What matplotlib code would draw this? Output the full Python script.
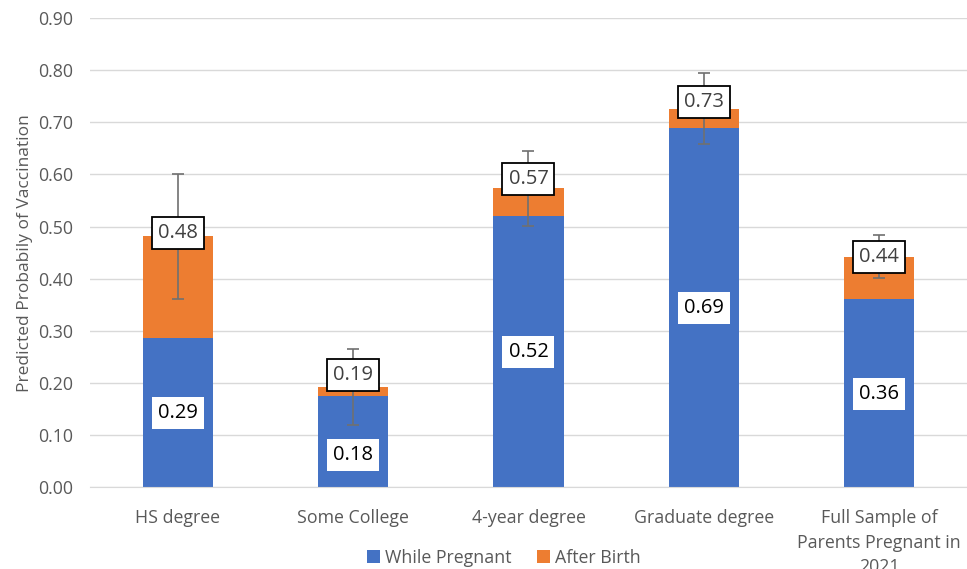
import numpy as np
import matplotlib.pyplot as plt

categories = ['HS degree', 'Some College', '4-year degree', 'Graduate degree',
              'Full Sample of\nParents Pregnant in\n2021']
while_pregnant = [0.287, 0.175, 0.520, 0.689, 0.361]
total = [0.481, 0.192, 0.574, 0.726, 0.442]
err = [0.120, 0.073, 0.072, 0.068, 0.041]
blue_labels = ['0.29', '0.18', '0.52', '0.69', '0.36']
total_labels = ['0.48', '0.19', '0.57', '0.73', '0.44']

after_birth = [t - w for t, w in zip(total, while_pregnant)]

# label placement (manual, like the original)
total_label_y = [0.488, 0.215, 0.591, 0.739, 0.441]
blue_label_y = [0.142, 0.061, 0.259, 0.343, 0.178]

plt.rcParams['font.family'] = ['Open Sans', 'DejaVu Sans']
grey = '#595959'

fig = plt.figure(figsize=(9.67, 5.69), dpi=100)
ax = fig.add_axes([0.093, 0.144, 0.907, 0.824])

x = np.arange(len(categories))
w = 0.4
ax.bar(x, while_pregnant, w, color='#4472C4', label='While Pregnant', zorder=2)
ax.bar(x, after_birth, w, bottom=while_pregnant, color='#ED7D31',
       label='After Birth', zorder=2)
ax.errorbar(x, total, yerr=err, fmt='none', ecolor='#707070', elinewidth=1.2,
            capsize=4, capthick=1.2, zorder=3)

for i in range(len(x)):
    ax.text(x[i], total_label_y[i], total_labels[i], ha='center', va='center',
            fontsize=14.5, color='#404040', zorder=4,
            bbox=dict(boxstyle='square,pad=0.3', fc='white', ec='black', lw=1.3))
    ax.text(x[i], blue_label_y[i], blue_labels[i], ha='center', va='center',
            fontsize=14.5, color='black', zorder=4,
            bbox=dict(boxstyle='square,pad=0.3', fc='white', ec='none'))

ax.set_xlim(-0.5, len(x) - 0.5)
ax.set_ylim(0, 0.9)
ax.set_yticks(np.arange(0, 0.91, 0.1))
ax.set_yticklabels([f'{v:.2f}' for v in np.arange(0, 0.91, 0.1)])
ax.set_xticks(x)
ax.set_xticklabels(categories, linespacing=1.45, va='top')
ax.tick_params(axis='both', length=0, colors=grey, labelsize=12.8)
ax.tick_params(axis='x', pad=16)
ax.tick_params(axis='y', pad=12)
ax.grid(axis='y', color='#D9D9D9', lw=1, zorder=0)
for s in ['top', 'right', 'left']:
    ax.spines[s].set_visible(False)
ax.spines['bottom'].set_color('#D9D9D9')
ax.set_ylabel('Predicted Probabily of Vaccination', color=grey, fontsize=12.5)

ax.legend(loc='center', bbox_to_anchor=(0.472, -0.151), ncol=2, frameon=False,
          fontsize=12.8, labelcolor=grey, handlelength=0.75, handleheight=0.75,
          handletextpad=0.3, columnspacing=1.4)

fig.savefig('out.png', dpi=100)
